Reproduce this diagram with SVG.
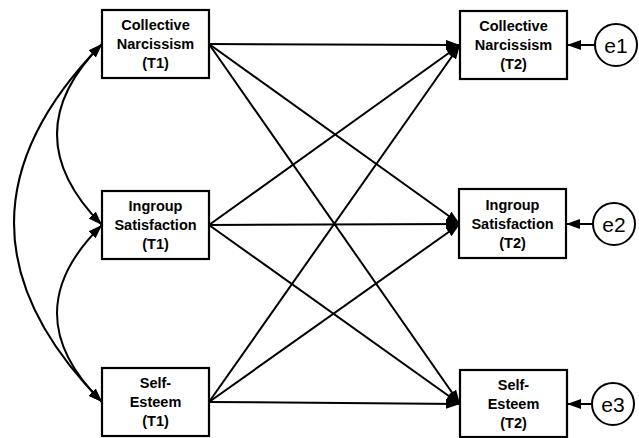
<svg xmlns="http://www.w3.org/2000/svg" width="639" height="438" viewBox="0 0 639 438">
<style>
.box{fill:#fff;stroke:#000;stroke-width:2.2}
.lbl{font-family:"Liberation Sans",Arial,sans-serif;font-weight:bold;font-size:14.5px;text-anchor:middle;fill:#000}
.err{font-family:"Liberation Sans",Arial,sans-serif;font-size:21px;text-anchor:middle;fill:#000}
.ln{fill:none;stroke:#000;stroke-width:2}
</style>
<defs>
<marker id="ah" viewBox="0 0 14 10" refX="14" refY="5" markerWidth="14" markerHeight="10" markerUnits="userSpaceOnUse" orient="auto-start-reverse">
<path d="M0,0 L14,5 L0,10 Z" fill="#000"/>
</marker>
</defs>
<g id="connectors">
<line class="ln" x1="209" y1="44" x2="460" y2="45" marker-end="url(#ah)"/>
<line class="ln" x1="209" y1="44" x2="460" y2="224" marker-end="url(#ah)"/>
<line class="ln" x1="209" y1="44" x2="460" y2="404" marker-end="url(#ah)"/>
<line class="ln" x1="209" y1="225" x2="460" y2="45" marker-end="url(#ah)"/>
<line class="ln" x1="209" y1="225" x2="460" y2="224" marker-end="url(#ah)"/>
<line class="ln" x1="209" y1="225" x2="460" y2="404" marker-end="url(#ah)"/>
<line class="ln" x1="209" y1="402" x2="460" y2="45" marker-end="url(#ah)"/>
<line class="ln" x1="209" y1="402" x2="460" y2="224" marker-end="url(#ah)"/>
<line class="ln" x1="209" y1="402" x2="460" y2="404" marker-end="url(#ah)"/>
<path class="ln" d="M102,44 Q12,134 102,225" marker-start="url(#ah)" marker-end="url(#ah)"/>
<path class="ln" d="M102,225 Q12,313 102,402" marker-start="url(#ah)" marker-end="url(#ah)"/>
<path class="ln" d="M102,44 Q-74,223 102,402" marker-start="url(#ah)" marker-end="url(#ah)"/>
<line class="ln" x1="595" y1="45" x2="567" y2="45" marker-end="url(#ah)"/>
<line class="ln" x1="593" y1="224" x2="566" y2="224" marker-end="url(#ah)"/>
<line class="ln" x1="592" y1="404" x2="567" y2="404" marker-end="url(#ah)"/>
</g>
<g id="cn1"><rect class="box" x="102" y="10" width="107" height="68"/>
<text class="lbl" x="155.5" y="30">Collective</text><text class="lbl" x="155.5" y="49">Narcissism</text><text class="lbl" x="155.5" y="68">(T1)</text></g>
<g id="is1"><rect class="box" x="102" y="191" width="107" height="68"/>
<text class="lbl" x="155.5" y="211">Ingroup</text><text class="lbl" x="155.5" y="230">Satisfaction</text><text class="lbl" x="155.5" y="249">(T1)</text></g>
<g id="se1"><rect class="box" x="102" y="368" width="107" height="68"/>
<text class="lbl" x="155.5" y="388">Self-</text><text class="lbl" x="155.5" y="407">Esteem</text><text class="lbl" x="155.5" y="426">(T1)</text></g>
<g id="cn2"><rect class="box" x="460" y="11" width="107" height="68"/>
<text class="lbl" x="513.5" y="31">Collective</text><text class="lbl" x="513.5" y="50">Narcissism</text><text class="lbl" x="513.5" y="69">(T2)</text></g>
<g id="is2"><rect class="box" x="459" y="189" width="107" height="69"/>
<text class="lbl" x="512.5" y="209.5">Ingroup</text><text class="lbl" x="512.5" y="228.5">Satisfaction</text><text class="lbl" x="512.5" y="247.5">(T2)</text></g>
<g id="se2"><rect class="box" x="460" y="370" width="107" height="67"/>
<text class="lbl" x="513.5" y="390">Self-</text><text class="lbl" x="513.5" y="409">Esteem</text><text class="lbl" x="513.5" y="428">(T2)</text></g>
<g id="e1"><circle cx="616" cy="45" r="21" fill="#fff" stroke="#000" stroke-width="2"/><text class="err" x="616" y="52.5">e1</text></g>
<g id="e2"><circle cx="614" cy="224" r="21" fill="#fff" stroke="#000" stroke-width="2"/><text class="err" x="614" y="231.5">e2</text></g>
<g id="e3"><circle cx="613" cy="404" r="21" fill="#fff" stroke="#000" stroke-width="2"/><text class="err" x="613" y="411.5">e3</text></g>
</svg>
